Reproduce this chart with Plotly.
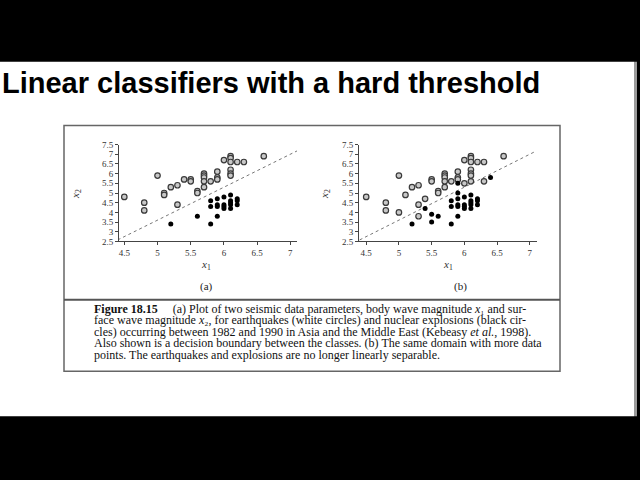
import plotly.graph_objects as go

# ---------------- data ----------------
# (a) earthquakes (white circles)
eq_a_x1 = [4.5, 4.8, 4.8, 5.0, 5.1, 5.1, 5.2, 5.3, 5.3, 5.4, 5.5, 5.5, 5.6, 5.6, 5.7, 5.7, 5.7, 5.7, 5.7,
           5.8, 5.9, 5.9, 5.9, 6.0, 6.1, 6.1, 6.1, 6.1, 6.1, 6.1, 6.2, 6.3, 6.6]
eq_a_x2 = [4.8, 4.5, 4.1, 5.9, 5.0, 4.9, 5.3, 5.4, 4.4, 5.7, 5.7, 5.6, 5.1, 5.0, 6.0, 5.9, 5.8, 5.6, 5.3,
           5.6, 6.1, 5.8, 5.7, 6.7, 6.9, 6.8, 6.6, 6.2, 6.0, 5.9, 6.6, 6.6, 6.9]
# (a) explosions (black circles)
ex_a_x1 = [5.2, 5.6, 5.8, 5.9, 5.8, 5.8, 5.9, 5.9, 5.9, 6.0, 6.0, 6.0, 6.0, 6.1, 6.1, 6.1, 6.1, 6.1, 6.2, 6.2, 6.2]
ex_a_x2 = [3.4, 3.8, 3.4, 3.8, 4.6, 4.3, 4.7, 4.4, 4.3, 4.8, 4.4, 4.3, 4.2, 4.9, 4.6, 4.5, 4.4, 4.2, 4.7, 4.6, 4.4]

# (b) earthquakes
eq_b_x1 = [4.5, 4.8, 4.8, 5.0, 5.0, 5.1, 5.2, 5.3, 5.3, 5.3, 5.4, 5.5, 5.5, 5.6, 5.6, 5.7, 5.7, 5.7, 5.7, 5.7,
           5.8, 5.9, 5.9, 5.9, 6.0, 6.0, 6.1, 6.1, 6.1, 6.1, 6.1, 6.1, 6.1, 6.2, 6.3, 6.3, 6.6]
eq_b_x2 = [4.8, 4.5, 4.1, 5.9, 4.0, 4.9, 5.3, 5.4, 4.4, 3.8, 4.7, 5.7, 5.6, 5.1, 5.0, 6.0, 5.9, 5.8, 5.6, 5.3,
           5.6, 6.1, 5.8, 5.7, 6.7, 5.5, 6.9, 6.8, 6.6, 6.2, 6.0, 5.9, 5.6, 6.6, 6.6, 5.6, 6.9]
# (b) explosions
ex_b_x1 = [5.2, 5.4, 5.5, 5.5, 5.6, 5.8, 5.9, 5.8, 5.8, 5.9, 5.9, 5.9, 5.9, 5.9, 6.0, 6.0, 6.0, 6.0,
           6.1, 6.1, 6.1, 6.1, 6.1, 6.2, 6.2, 6.2, 6.4]
ex_b_x2 = [3.4, 4.2, 3.9, 3.5, 3.8, 3.4, 3.8, 4.6, 4.3, 5.5, 5.0, 4.7, 4.4, 4.3, 4.8, 4.4, 4.3, 4.2,
           4.9, 4.6, 4.5, 4.4, 4.2, 4.7, 4.6, 4.4, 5.8]

# decision boundary x2 = 1.7 x1 - 4.9 (end points)
boundary_x1 = [4.4, 7.1]
boundary_x2 = [2.58, 7.17]

x_ticks = [4.5, 5, 5.5, 6, 6.5, 7]
x_tick_labels = ["4.5", "5", "5.5", "6", "6.5", "7"]
y_ticks = [2.5, 3, 3.5, 4, 4.5, 5, 5.5, 6, 6.5, 7, 7.5]
y_tick_labels = ["2.5", "3", "3.5", "4", "4.5", "5", "5.5", "6", "6.5", "7", "7.5"]

title_text = "Linear classifiers with a hard threshold"
caption_lines = [
    "<b>Figure 18.15</b>\u00a0\u00a0\u00a0\u00a0 (a) Plot of two seismic data parameters, body wave magnitude <i>x</i>\u2081 and sur-",
    "face wave magnitude <i>x</i>\u2082, for earthquakes (white circles) and nuclear explosions (black cir-",
    "cles) occurring between 1982 and 1990 in Asia and the Middle East (Kebeasy <i>et al.</i>, 1998).",
    "Also shown is a decision boundary between the classes. (b) The same domain with more data",
    "points. The earthquakes and explosions are no longer linearly separable.",
]

W, H = 640, 480


def px(x):
    return x / W


def py(y):
    return 1 - y / H


SERIF = "Liberation Serif, Times New Roman, serif"

fig = go.Figure()

panels = [
    ("x", "y", eq_a_x1, eq_a_x2, ex_a_x1, ex_a_x2),
    ("x2", "y2", eq_b_x1, eq_b_x2, ex_b_x1, ex_b_x2),
]
for xa, ya, q1, q2, e1, e2 in panels:
    fig.add_trace(go.Scatter(x=boundary_x1, y=boundary_x2, mode="lines", xaxis=xa, yaxis=ya,
                             line=dict(color="#777777", width=1, dash="dot"), showlegend=False,
                             hoverinfo="skip"))
    fig.add_trace(go.Scatter(x=q1, y=q2, mode="markers", xaxis=xa, yaxis=ya,
                             marker=dict(size=5.5, color="#c8c8c8", line=dict(color="#3a3a3a", width=1.2)),
                             showlegend=False))
    fig.add_trace(go.Scatter(x=e1, y=e2, mode="markers", xaxis=xa, yaxis=ya,
                             marker=dict(size=5, color="#000000", line=dict(width=0)),
                             showlegend=False))

axis_common = dict(showline=True, linecolor="#444444", linewidth=1, ticks="outside", ticklen=3,
                   tickcolor="#444444", showgrid=False, zeroline=False, mirror=False,
                   tickfont=dict(family=SERIF, size=9, color="#333333"))

fig.update_layout(
    width=W, height=H,
    margin=dict(l=0, r=0, t=0, b=0),
    paper_bgcolor="#000000",
    plot_bgcolor="rgba(0,0,0,0)",
    xaxis=dict(domain=[px(119), px(297)], range=[4.42, 7.1], tickvals=x_ticks, ticktext=x_tick_labels,
               anchor="y", **axis_common),
    yaxis=dict(domain=[py(241.5), py(142.5)], range=[2.5, 7.5], tickvals=y_ticks, ticktext=y_tick_labels,
               anchor="x", **axis_common),
    xaxis2=dict(domain=[px(359), px(537)], range=[4.39, 7.11], tickvals=x_ticks, ticktext=x_tick_labels,
                anchor="y2", **axis_common),
    yaxis2=dict(domain=[py(241.5), py(142.5)], range=[2.5, 7.5], tickvals=y_ticks, ticktext=y_tick_labels,
                anchor="x2", **axis_common),
)

shapes = [
    # white slide
    dict(type="rect", xref="paper", yref="paper", x0=0, x1=px(634), y0=py(420), y1=py(58),
         fillcolor="#ffffff", line=dict(width=0), layer="below"),
    dict(type="rect", xref="paper", yref="paper", x0=px(634), x1=px(637), y0=py(420), y1=py(58),
         fillcolor="#9a9a9a", line=dict(width=0), layer="below"),
    # figure box
    dict(type="rect", xref="paper", yref="paper", x0=px(64), x1=px(560), y0=py(374), y1=py(123),
         fillcolor="rgba(0,0,0,0)", line=dict(color="#666666", width=1.5), layer="below"),
    dict(type="line", xref="paper", yref="paper", x0=px(64), x1=px(560), y0=py(301), y1=py(301),
         line=dict(color="#555555", width=2.2), layer="below"),
]
fig.update_layout(shapes=shapes)

ann = [
    dict(text="<b>" + title_text + "</b>", x=px(0), y=py(80), xanchor="left", yanchor="middle",
         font=dict(family="Liberation Sans, Arial, sans-serif", size=29, color="#000000")),
    dict(text="<i>x</i><sub>1</sub>", x=px(206), y=py(266), xanchor="center", yanchor="middle",
         font=dict(family=SERIF, size=11, color="#333333")),
    dict(text="<i>x</i><sub>1</sub>", x=px(448), y=py(266), xanchor="center", yanchor="middle",
         font=dict(family=SERIF, size=11, color="#333333")),
    dict(text="<i>x</i><sub>2</sub>", x=px(76), y=py(193), xanchor="center", yanchor="middle", textangle=-90,
         font=dict(family=SERIF, size=11, color="#333333")),
    dict(text="<i>x</i><sub>2</sub>", x=px(325), y=py(193), xanchor="center", yanchor="middle", textangle=-90,
         font=dict(family=SERIF, size=11, color="#333333")),
    dict(text="(a)", x=px(206), y=py(287), xanchor="center", yanchor="middle",
         font=dict(family=SERIF, size=11, color="#222222")),
    dict(text="(b)", x=px(460), y=py(287), xanchor="center", yanchor="middle",
         font=dict(family=SERIF, size=11, color="#222222")),
]
line_y = [310.5, 322.2, 333.9, 345.6, 357.3]
for t, yy in zip(caption_lines, line_y):
    ann.append(dict(text=t, x=px(92), y=py(yy), xanchor="left", yanchor="middle",
                    font=dict(family=SERIF, size=12, color="#111111")))
for a in ann:
    a.update(xref="paper", yref="paper", showarrow=False)
fig.update_layout(annotations=ann)

fig.write_html("out.html",
               config={"displayModeBar": False},
               post_script="document.body.style.margin='0';document.body.style.background='#000';")
